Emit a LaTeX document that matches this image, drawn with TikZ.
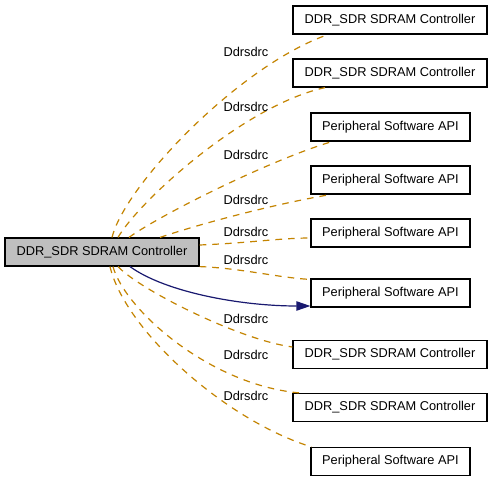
\documentclass[tikz,border=0pt]{standalone}
\usepackage{fontspec}
\setmainfont{Liberation Sans}
\usetikzlibrary{calc,arrows.meta}
\definecolor{edgeorange}{RGB}{196,132,0}
\definecolor{edgeblue}{RGB}{25,25,112}
\definecolor{mainfill}{RGB}{191,191,191}
\begin{document}
\begin{tikzpicture}[x=0.75pt,y=-0.75pt,
  every node/.style={font=\fontsize{9.6}{11}\selectfont},
  cls/.style={draw=black,line width=0.9pt,fill=white,minimum height=21pt,inner sep=0pt},
  wide/.style={cls,minimum width=145.5pt},
  narrow/.style={cls,minimum width=119.25pt},
  mainbox/.style={cls,minimum width=145.5pt,fill=mainfill},
  dep/.style={draw=edgeorange,line width=0.9pt,dash pattern=on 5pt off 4.5pt},
  use/.style={draw=edgeblue,line width=0.9pt,-{Triangle[length=10.5pt,width=7pt]}},
  lbl/.style={inner sep=0pt}]
\useasboundingbox[fill=white] (0,0) rectangle (493,481);
% nodes
\node[mainbox] (main) at (102,252) {DDR\_SDR SDRAM Controller};
\node[wide]   (b1) at (390,20)    {DDR\_SDR SDRAM Controller};
\node[wide]   (b2) at (390,73)    {DDR\_SDR SDRAM Controller};
\node[narrow] (b3) at (390.5,127) {Peripheral Software API};
\node[narrow] (b4) at (390.5,180) {Peripheral Software API};
\node[narrow] (b5) at (390.5,233) {Peripheral Software API};
\node[narrow] (b6) at (390.5,293) {Peripheral Software API};
\node[wide]   (b7) at (390,354.5) {DDR\_SDR SDRAM Controller};
\node[wide]   (b8) at (390,407.5) {DDR\_SDR SDRAM Controller};
\node[narrow] (b9) at (390.5,461.5) {Peripheral Software API};
% connectors
\draw[dep] ($(main.north)+(10,0)$) .. controls (125,185) and (240,65) .. ($(b1.south)+(-62,0)$);
\draw[dep] ($(main.north)+(16,0)$) .. controls (140,200) and (245,105) .. ($(b2.south)+(-65,0)$);
\draw[dep] ($(main.north)+(27,0)$) .. controls (160,215) and (270,160) .. ($(b3.south)+(-58.5,0)$);
\draw[dep] ($(main.north)+(58,0)$) .. controls (200,224) and (270,205) .. ($(b4.south)+(-60.5,0)$);
\draw[dep] ($(main.east)+(0,-7)$) .. controls (250,243) and (280,238) .. ($(b5.west)+(0,5)$);
\draw[dep] (main.south east) .. controls (240,268) and (280,278) .. ($(b6.north west)+(0,1)$);
\draw[dep] ($(main.south)+(16,0)$) .. controls (140,290) and (240,340) .. ($(b7.west)+(0,-7.5)$);
\draw[dep] ($(main.south)+(11,0)$) .. controls (125,310) and (210,385) .. ($(b8.north west)+(7,0)$);
\draw[dep] ($(main.south)+(8,0)$) .. controls (125,330) and (225,420) .. ($(b9.north west)+(1,0)$);
\draw[use] ($(main.south)+(28,0)$) .. controls (165,292) and (240,306) .. ($(b6.west)+(0,13)$);
% labels
\node[lbl] (l1) at (246,52)  {Ddrsdrc};
\node[lbl] (l2) at (246,106.5) {Ddrsdrc};
\node[lbl] (l3) at (246,155) {Ddrsdrc};
\node[lbl] (l4) at (246,200) {Ddrsdrc};
\node[lbl] (l5) at (246,232.3) {Ddrsdrc};
\node[lbl] (l6) at (246,260) {Ddrsdrc};
\node[lbl] (l7) at (246,319.3) {Ddrsdrc};
\node[lbl] (l8) at (246,355.3) {Ddrsdrc};
\node[lbl] (l9) at (246,395.7) {Ddrsdrc};
\end{tikzpicture}
\end{document}
